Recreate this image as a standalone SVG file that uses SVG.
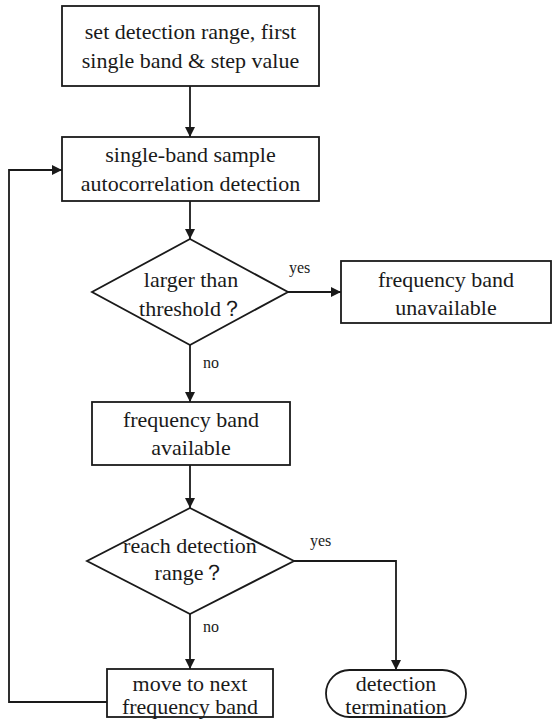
<svg xmlns="http://www.w3.org/2000/svg" width="552" height="719" viewBox="0 0 552 719">
<style>
.n{fill:#fff;stroke:#1a1a1a;stroke-width:1.8}
.t{font-family:'Liberation Serif',serif;font-size:22px;fill:#1a1a1a;text-anchor:middle}
.l{font-family:'Liberation Serif',serif;font-size:16px;fill:#1a1a1a}
.c{fill:none;stroke:#1a1a1a;stroke-width:1.8}
</style>
<defs>
<marker id="a" viewBox="0 0 10 10" refX="10" refY="5" markerWidth="10" markerHeight="10" markerUnits="userSpaceOnUse" orient="auto">
<path d="M0,0 L10,5 L0,10 z" fill="#1a1a1a"/>
</marker>
</defs>
<rect width="552" height="719" fill="#fff"/>
<g id="connectors">
<path class="c" d="M190,86 V137" marker-end="url(#a)"/>
<path class="c" d="M190,201 V239" marker-end="url(#a)"/>
<path class="c" d="M288,292 H341" marker-end="url(#a)"/>
<path class="c" d="M190,345 V402" marker-end="url(#a)"/>
<path class="c" d="M190,465 V508" marker-end="url(#a)"/>
<path class="c" d="M190,614 V669" marker-end="url(#a)"/>
<path class="c" d="M294,561 H396 V670" marker-end="url(#a)"/>
<path class="c" d="M107,702 H9 V170 H62" marker-end="url(#a)"/>
<text class="l" x="289" y="273">yes</text>
<text class="l" x="203" y="368">no</text>
<text class="l" x="310" y="546">yes</text>
<text class="l" x="203" y="632">no</text>
</g>
<g id="start">
<rect class="n" x="62" y="6" width="257" height="80"/>
<text class="t" x="190.5" y="39">set detection range, first</text>
<text class="t" x="190.5" y="68">single band &amp; step value</text>
</g>
<g id="detect">
<rect class="n" x="62" y="137" width="257" height="64"/>
<text class="t" x="190.5" y="162">single-band sample</text>
<text class="t" x="190.5" y="191">autocorrelation detection</text>
</g>
<g id="threshold">
<polygon class="n" points="190,239 288,292 190,345 92,292"/>
<text class="t" x="191" y="287">larger than</text>
<text class="t" x="191" y="316">threshold？</text>
</g>
<g id="unavailable">
<rect class="n" x="341" y="261" width="210" height="62"/>
<text class="t" x="446" y="287">frequency band</text>
<text class="t" x="446" y="315">unavailable</text>
</g>
<g id="available">
<rect class="n" x="92" y="402" width="198" height="63"/>
<text class="t" x="191" y="427">frequency band</text>
<text class="t" x="191" y="455">available</text>
</g>
<g id="range">
<polygon class="n" points="190,508 294,561 190,614 87,561"/>
<text class="t" x="190" y="553">reach detection</text>
<text class="t" x="190" y="580">range？</text>
</g>
<g id="next">
<rect class="n" x="107" y="669" width="166" height="48"/>
<text class="t" x="190" y="691">move to next</text>
<text class="t" x="190" y="714">frequency band</text>
</g>
<g id="end">
<rect class="n" x="326" y="670" width="140" height="47" rx="23.5"/>
<text class="t" x="396" y="691">detection</text>
<text class="t" x="396" y="714">termination</text>
</g>
</svg>
